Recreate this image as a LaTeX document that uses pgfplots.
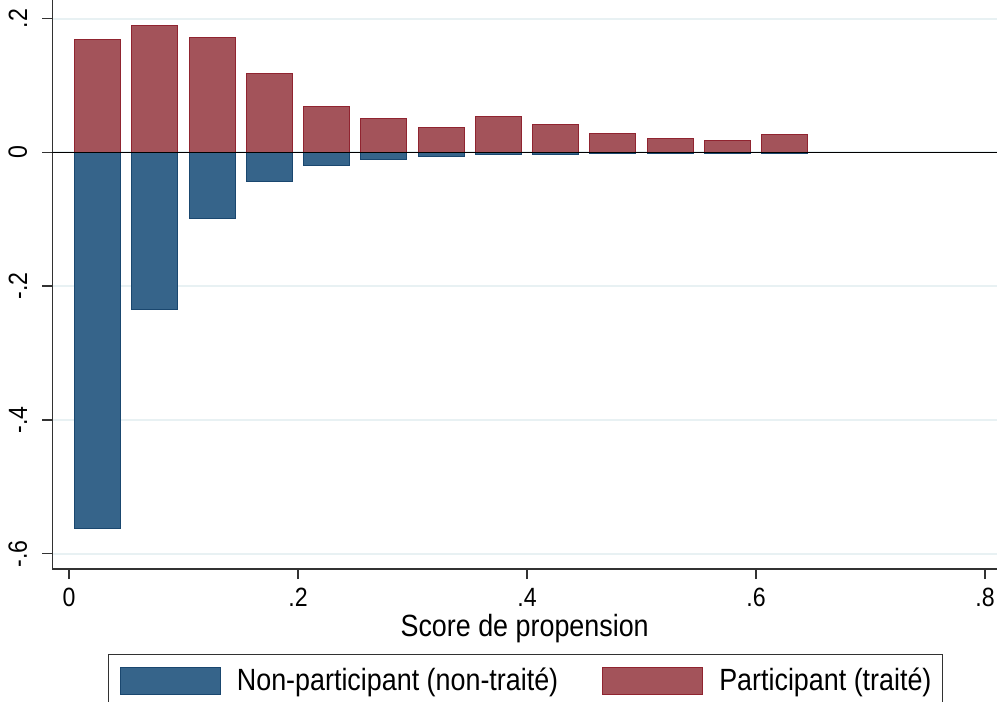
\documentclass[border=0pt]{standalone}
\usepackage{pgfplots}
\pgfplotsset{compat=1.18}
\usepackage{fontspec}
\setmainfont{Liberation Sans}[FakeStretch=0.876]
\definecolor{bluefill}{RGB}{54,100,138}
\definecolor{blueline}{RGB}{26,71,111}
\definecolor{redfill}{RGB}{163,83,90}
\definecolor{redline}{RGB}{144,36,48}
\definecolor{gridc}{RGB}{232,241,243}
\definecolor{axc}{RGB}{50,50,50}
\newcommand\bigf{\fontsize{15.35}{18}\selectfont}
\newcommand\tickf{\fontsize{13.2}{15}\selectfont}
\begin{document}
\begin{tikzpicture}
\path[use as bounding box] (0,0) rectangle (498.5pt,351pt);
\begin{axis}[
  at={(26.15pt,66.5pt)}, anchor=south west,
  scale only axis, width=472.35pt, height=284.5pt,
  xmin=-0.0146, xmax=0.8105, ymin=-0.6229, ymax=0.2277,
  axis x line*=bottom, axis y line*=left,
  axis line style={axc, line width=0.7pt},
  tick style={axc, line width=0.7pt},
  tick align=outside, major tick length=5pt,
  xtick={0,0.2,0.4,0.6,0.8}, xticklabels={0,.2,.4,.6,.8},
  ytick={-0.6,-0.4,-0.2,0,0.2}, yticklabels={-.6,-.4,-.2,0,.2},
  ticklabel style={font=\tickf},
  xticklabel style={yshift=-1pt},
  yticklabel style={xshift=-4pt, rotate=90, anchor=south},
  ymajorgrids, grid style={gridc, line width=1pt},
  xlabel={Score de propension}, xlabel style={font=\bigf, yshift=3pt},
  legend columns=2,
  legend cell align=left,
  legend style={at={(0.05896,-0.1494)}, anchor=north west, draw=axc, line width=0.6pt,
    font=\bigf, inner xsep=5.65pt, inner ysep=6pt,
    nodes={inner sep=0pt},
    /tikz/every odd column/.append style={column sep=8pt},
    /tikz/every even column/.append style={column sep=22pt}},
]
\addlegendimage{legend image code/.code={\draw[fill=bluefill, draw=blueline, line width=0.5pt] (0pt,-6.75pt) rectangle (50pt,6.75pt);}}
\addlegendentry{Non-participant (non-traité)}
\addlegendimage{legend image code/.code={\draw[fill=redfill, draw=redline, line width=0.5pt] (0pt,-6.75pt) rectangle (50pt,6.75pt);}}
\addlegendentry{Participant (traité)}
\addplot[forget plot, ybar, bar width=0.04, bar shift=0pt, fill=bluefill, draw=blueline, line width=0.5pt] coordinates {
(0.025,-0.562) (0.075,-0.235) (0.125,-0.099) (0.175,-0.0435) (0.225,-0.020) (0.275,-0.011)
(0.325,-0.0065) (0.375,-0.003) (0.425,-0.003) (0.475,-0.002) (0.525,-0.002) (0.575,-0.002)
(0.625,-0.002) (0.675,-0.001) (0.725,-0.001) (0.775,-0.001)};
\addplot[forget plot, ybar, bar width=0.04, bar shift=0pt, fill=redfill, draw=redline, line width=0.5pt] coordinates {
(0.025,0.169) (0.075,0.190) (0.125,0.172) (0.175,0.118) (0.225,0.069) (0.275,0.050)
(0.325,0.037) (0.375,0.053) (0.425,0.042) (0.475,0.0285) (0.525,0.0205) (0.575,0.018)
(0.625,0.027)};
\addplot[forget plot, black, line width=0.6pt] coordinates {(-0.0146,0) (0.8105,0)};
\end{axis}
\end{tikzpicture}
\end{document}
